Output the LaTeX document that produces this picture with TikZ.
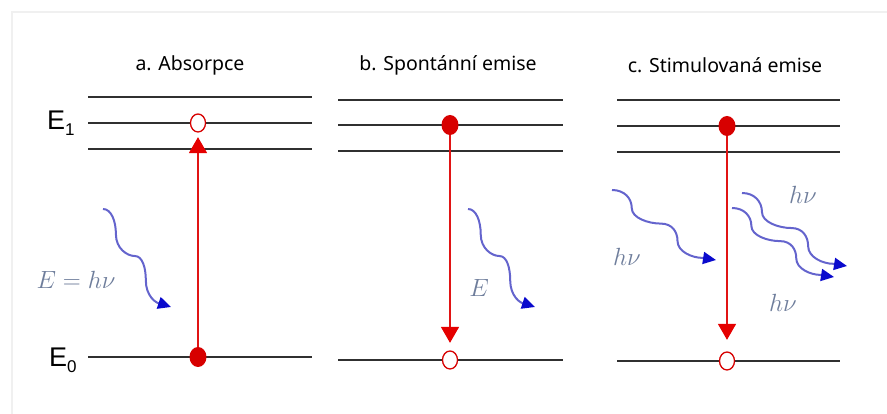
\documentclass[tikz,border=0pt]{standalone}
\usepackage{fontspec}
\setmainfont{Liberation Sans}
\newfontfamily\titlefont{Noto Sans}
\usepackage{tikz}
\usetikzlibrary{arrows.meta,shapes.geometric}

\definecolor{levelgray}{RGB}{48, 48, 48}
\definecolor{transred}{RGB}{225, 20, 20}
\definecolor{dotred}{RGB}{215, 0, 0}
\definecolor{wavelilac}{RGB}{100, 100, 205}
\definecolor{waveblue}{RGB}{10, 10, 205}
\definecolor{labelslate}{RGB}{110, 125, 155}

\newcommand{\lvlname}[1]{E\raisebox{-6pt}{\fontsize{17}{17}\selectfont #1}}

\tikzset{
  title/.style       = {font=\titlefont\fontsize{19.5}{22}\selectfont, inner sep=0pt},
  elabel/.style      = {font=\fontsize{27}{30}\selectfont, inner sep=0pt, anchor=base west},
  level/.style       = {draw=levelgray, line width=1.8pt},
  occupied/.style    = {ellipse, fill=dotred, minimum width=17pt, minimum height=20pt, inner sep=0pt},
  vacant/.style      = {ellipse, draw=dotred, line width=1.3pt, fill=white,
                        minimum width=15pt, minimum height=18pt, inner sep=0pt},
  transition/.style  = {draw=transred, line width=1.6pt,
                        -{Triangle[length=16pt, width=18pt, color=red!90!black]}},
  photonline/.style  = {draw=wavelilac, line width=2pt,
                        -{Triangle[length=13pt, width=12pt, color=waveblue]}},
  photonlabel/.style = {text=labelslate, font=\fontsize{32}{35}\selectfont, inner sep=0pt},
  photon/.pic        = {
    \draw[photonline] (0,0) .. controls (0.12,0) and (0.19,0.12) .. (0.19,0.26)
      .. controls (0.19,0.40) and (0.35,0.48) .. (0.47,0.48)
      .. controls (0.58,0.48) and (0.63,0.60) .. (0.63,0.73)
      .. controls (0.63,0.88) and (0.77,0.97) .. (0.87,0.97)
      -- (1,1);
  }
}

\begin{document}
\begin{tikzpicture}[x=1pt, y=1pt]
  \useasboundingbox (0,0) rectangle (887,414);
  % faint frame of the original figure
  \draw[black!6, line width=1.5pt] (887,402) -- (12,402) -- (12,0);

  % titles
  \node[title] (ta) at (190,349) {a. Absorpce};
  \node[title] (tb) at (448,349) {b. Spontánní emise};
  \node[title] (tc) at (725,349) {c. Stimulovaná emise};

  % energy levels
  \foreach \xl/\xr/\ya/\yb/\yc/\yd in {88/312/317/291/265/57,
                                       338/563/314/289/263/54,
                                       617/840/314/288/262/53}
    \foreach \y in {\ya,\yb,\yc,\yd}
      \draw[level] (\xl,\y) -- (\xr,\y);

  \node[elabel] (e1) at (47,284) {\lvlname{1}};
  \node[elabel] (e0) at (49,47) {\lvlname{0}};

  % a. absorption
  \node[occupied] (a0) at (198,57) {};
  \node[vacant] (a1) at (198,291) {};
  \draw[transition, shorten >=4.5pt] (a0) -- (a1);

  % b. spontaneous emission
  \node[occupied] (b1) at (450,289) {};
  \node[vacant] (b0) at (450,54) {};
  \draw[transition, shorten >=7.5pt] (b1) -- (b0);

  % c. stimulated emission
  \node[occupied] (c1) at (727,288) {};
  \node[vacant] (c0) at (727,53) {};
  \draw[transition, shorten >=11.5pt] (c1) -- (c0);

  % photons
  \coordinate (wa) at (103,205);
  \coordinate (wb) at (468,205);
  \coordinate (wc) at (612,224);
  \coordinate (wd) at (742,221);
  \coordinate (we) at (732,206);
  \pic[x=68pt, y=-98pt] at (wa) {photon};
  \pic[x=67pt, y=-98pt] at (wb) {photon};
  \pic[x=104pt, y=-70pt] at (wc) {photon};
  \pic[x=105pt, y=-73pt] at (wd) {photon};
  \pic[x=102pt, y=-69pt] at (we) {photon};

  \node[photonlabel] (la) at (76,134) {$E = h\nu$};
  \node[photonlabel] (lb) at (479,126) {$E$};
  \node[photonlabel] (lc) at (627,157) {$h\nu$};
  \node[photonlabel] (ld) at (803,219) {$h\nu$};
  \node[photonlabel] (le) at (783,111) {$h\nu$};
\end{tikzpicture}
\end{document}
